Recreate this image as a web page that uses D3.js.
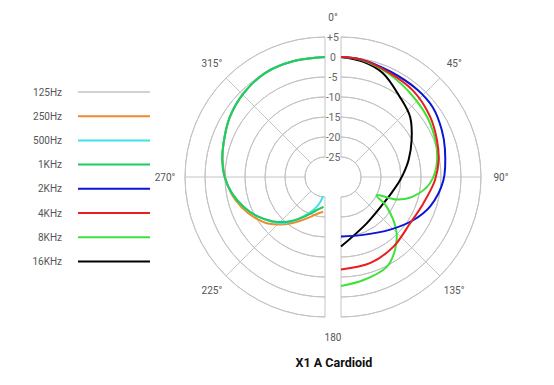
<!DOCTYPE html>
<html>
<head>
<meta charset="utf-8">
<script src="https://cdn.jsdelivr.net/npm/d3@7"></script>
<style>
  body { margin: 0; background: #fff; }
  text { font-family: Roboto, "Open Sans", sans-serif; }
</style>
</head>
<body>
<div id="chart"></div>
<script>
const WIDTH = 554;
const HEIGHT = 385;

// frequencies / legend
var FREQS = ["125Hz", "250Hz", "500Hz", "1KHz", "2KHz", "4KHz", "8KHz", "16KHz"];
var COLORS = ["#d2d2d2", "#f08a2c", "#3ee3e3", "#1fcc5c", "#0a16d6", "#ea1c1c", "#3ee23a", "#000000"];

// ring ticks (dB) and angle labels
var RING_TICKS = [5, 0, -5, -10, -15, -20, -25];
var ANGLES = [0, 45, 90, 135, 180, 225, 270, 315];
var ANGLE_LABELS = ["0°", "45°", "90°", "135°", "180", "225°", "270°", "315°"];

// [angle in degrees, dB] - low frequencies on the left half (180-360)
var hz125 = [[360, 0], [345, 0], [330, 0], [316, -0.8], [302, -1.9], [288, -3.3], [279, -4.0], [270, -4.9], [260, -6.4], [250, -8.3], [240, -10.4], [230, -12.8], [220, -15.4], [210, -18.2], [201, -20.3], [192, -21.7], [183, -22.5]];
var hz250 = [[360, 0], [345, 0], [330, 0], [316, -0.8], [302, -1.9], [288, -3.3], [279, -4.1], [270, -5.0], [260, -6.2], [250, -7.8], [240, -9.7], [230, -11.8], [220, -14.6], [210, -17.3], [200, -19.4], [191, -20.7], [183, -21.3]];
var hz500 = [[360, 0], [345, 0], [330, 0], [316, -0.8], [302, -1.9], [288, -3.3], [279, -4.0], [270, -4.9], [260, -6.4], [250, -8.3], [240, -10.4], [230, -12.6], [222, -14.4], [214, -17.0], [206, -19.6], [198, -21.6], [191, -23.5], [186, -25.2]];
var hz1k = [[360, 0], [345, 0], [330, 0], [316, -0.8], [302, -1.9], [288, -3.3], [279, -4.0], [270, -4.9], [260, -6.4], [250, -8.3], [240, -10.4], [230, -12.8], [220, -15.4], [210, -18.2], [201, -20.3], [192, -21.7], [183, -22.5]];
// high frequencies on the right half (0-180)
var hz2k = [[0, 0], [10, -0.2], [25, -0.9], [41, -1.0], [53, -1.2], [65, -2.2], [75, -3.1], [92, -4.4], [108, -6.5], [121, -9.0], [137, -12.0], [159, -14.5], [180, -15.1]];
var hz4k = [[0, 0], [10, -0.2], [25, -1.3], [40, -1.9], [56, -3.1], [69, -4.3], [80, -5.2], [92, -6.5], [108, -8.4], [124, -9.2], [143, -8.2], [161, -7.3], [180, -6.9]];
var hz8k = [[0, 0], [10, -0.3], [25, -1.6], [42, -3.0], [59, -4.0], [80, -5.6], [94, -7.7], [105, -11.3], [112, -15.0], [117, -20.0], [123, -16.4], [134, -10.8], [143.5, -7.3], [153, -4.8], [168, -3.6], [180, -2.75]];
var hz16k = [[0, 0], [11, -0.65], [22, -2.0], [36, -5.1], [49, -7.1], [62, -10.0], [76, -12.6], [93, -15.2], [108, -16.8], [122, -17.5], [151, -16.75], [180, -12.6]];

var SERIES = [hz125, hz250, hz500, hz1k, hz2k, hz4k, hz8k, hz16k];

// layout: two half plots, split by a narrow strip holding the ring labels
var CY = 177;
var CX_LEFT = 325;
var CX_RIGHT = 341;
var rScale = d3.scaleLinear().domain([-30, 5]).range([0, 140]);
var R_MIN = rScale(-25);
var R_MAX = rScale(5);
var GRID = "#c4c4c4";

var svg = d3
  .select("#chart")
  .append("svg")
  .attr("width", WIDTH)
  .attr("height", HEIGHT);

var rad = (deg) => (deg * Math.PI) / 180;

//Grid for one half
function drawHalf(cx, a0, a1, spokes) {
  var g = svg.append("g").attr("transform", "translate(" + cx + "," + CY + ")");
  RING_TICKS.forEach(function (t) {
    g.append("path")
      .attr("d", d3.arc()({ innerRadius: rScale(t), outerRadius: rScale(t), startAngle: rad(a0), endAngle: rad(a1) }))
      .attr("fill", "none")
      .attr("stroke", GRID)
      .attr("stroke-width", 1);
  });
  spokes.forEach(function (a) {
    var s = Math.sin(rad(a)), c = -Math.cos(rad(a));
    g.append("line")
      .attr("x1", R_MIN * s).attr("y1", R_MIN * c)
      .attr("x2", R_MAX * s).attr("y2", R_MAX * c)
      .attr("stroke", GRID)
      .attr("stroke-width", 1);
  });
  return g;
}

var gRight = drawHalf(CX_RIGHT, 0, 180, [0, 45, 90, 135, 180]);
var gLeft = drawHalf(CX_LEFT, 180, 360, [180, 225, 270, 315, 360]);

//Ring labels in the strip
svg
  .append("g")
  .selectAll("text")
  .data(RING_TICKS)
  .enter()
  .append("text")
  .attr("x", (CX_LEFT + CX_RIGHT) / 2)
  .attr("y", (d) => CY - rScale(d))
  .attr("dy", "0.35em")
  .attr("text-anchor", "middle")
  .attr("font-size", 10.5)
  .attr("fill", "#666")
  .text((d) => (d > 0 ? "+" + d : String(d)));

//Angle labels
svg
  .append("g")
  .selectAll("text")
  .data(ANGLES)
  .enter()
  .append("text")
  .attr("x", (d) => (d <= 180 && d > 0 ? CX_RIGHT : d === 0 ? (CX_LEFT + CX_RIGHT) / 2 : CX_LEFT) + 160 * Math.sin(rad(d)) - (d === 180 ? 8 : 0))
  .attr("y", (d) => CY - 160 * Math.cos(rad(d)))
  .attr("dy", "0.35em")
  .attr("text-anchor", "middle")
  .attr("font-size", 10)
  .attr("fill", "#555")
  .text((d, i) => ANGLE_LABELS[i]);

//Curves
var line = d3
  .lineRadial()
  .angle((d) => rad(d[0]))
  .radius((d) => rScale(d[1]))
  .curve(d3.curveCatmullRom.alpha(0.5));

var drawOrder = [0, 1, 2, 3, 7, 6, 4, 5];
drawOrder.forEach(function (i) {
  var g = i < 4 ? gLeft : gRight;
  g.append("path")
    .attr("d", line(SERIES[i]))
    .attr("fill", "none")
    .attr("stroke", COLORS[i])
    .attr("stroke-width", 2);
});

//Legend
var legend = svg
  .append("g")
  .selectAll("g")
  .data(FREQS)
  .enter()
  .append("g")
  .attr("transform", (d, i) => "translate(0," + (92 + i * 24.2) + ")");

legend
  .append("text")
  .attr("x", 62)
  .attr("dy", "0.35em")
  .attr("text-anchor", "end")
  .attr("font-size", 10)
  .attr("fill", "#555")
  .text((d) => d);

legend
  .append("line")
  .attr("x1", 78)
  .attr("x2", 150)
  .attr("stroke", (d, i) => COLORS[i])
  .attr("stroke-width", 2);

//Title
svg
  .append("text")
  .attr("x", 334)
  .attr("y", 367)
  .attr("text-anchor", "middle")
  .attr("font-size", 12.5)
  .attr("font-weight", "bold")
  .attr("fill", "#111")
  .text("X1 A Cardioid");
</script>
</body>
</html>
